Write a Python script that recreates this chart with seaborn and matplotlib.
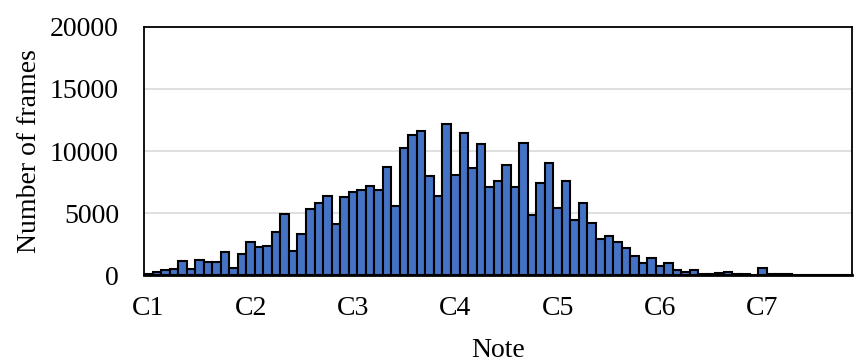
import matplotlib
matplotlib.use("Agg")
import matplotlib.pyplot as plt
import seaborn as sns
import pandas as pd

frames = [130, 270, 400, 460, 1140, 480, 1220, 1080, 1080, 1870,
          560, 1730, 2680, 2300, 2380, 3480, 4920, 1950, 3330, 5360,
          5840, 6390, 4090, 6280, 6660, 6820, 7200, 6820, 8710, 5600,
          10230, 11280, 11600, 7980, 6410, 12150, 8060, 11420, 8660, 10580,
          7140, 7600, 8900, 7090, 10660, 4840, 7410, 9010, 5420, 7570,
          4460, 5840, 4190, 2890, 3140, 2650, 2160, 1540, 950, 1400,
          760, 950, 400, 220, 380, 60, 60, 180, 250, 60,
          60, 40, 550, 120, 120, 120, 50, 50, 50, 50,
          0, 0, 0]
note_idx = list(range(len(frames)))
tick_pos = [0, 12, 24, 36, 48, 60, 72]
tick_labels = ["C1", "C2", "C3", "C4", "C5", "C6", "C7"]

sns.set_theme(style="white")
plt.rcParams['font.family'] = ['Liberation Serif', 'DejaVu Serif']

df = pd.DataFrame({"note": note_idx, "frames": frames})

fig = plt.figure(figsize=(8.57, 3.63), dpi=100)
ax = fig.add_axes([0.168, 0.242, 0.826, 0.684])
sns.barplot(data=df, x="note", y="frames", ax=ax, width=1.0, color="#4472C4",
            saturation=1, edgecolor="black", linewidth=1.5, zorder=3)
ax.set_ylim(0, 20000)
ax.set_xlim(-0.5, len(frames) - 0.5)
ax.set_yticks([0, 5000, 10000, 15000, 20000])
ax.yaxis.grid(True, color="#d9d9d9", linewidth=1.2, zorder=0)
ax.set_axisbelow(True)
ax.set_xticks(tick_pos)
ax.set_xticklabels(tick_labels)
ax.tick_params(axis="x", length=0, pad=15, labelsize=20, colors="black")
ax.tick_params(axis="y", length=0, pad=18, labelsize=20, colors="black")
for s in ax.spines.values():
    s.set_visible(True)
    s.set_color("black")
    s.set_linewidth(1.3)
ax.spines["bottom"].set_linewidth(2)
ax.set_xlabel("Note", fontsize=20, labelpad=12, color="black")
ax.set_ylabel("Number of frames", fontsize=20, labelpad=6, color="black")
fig.savefig("out.png", dpi=100)
